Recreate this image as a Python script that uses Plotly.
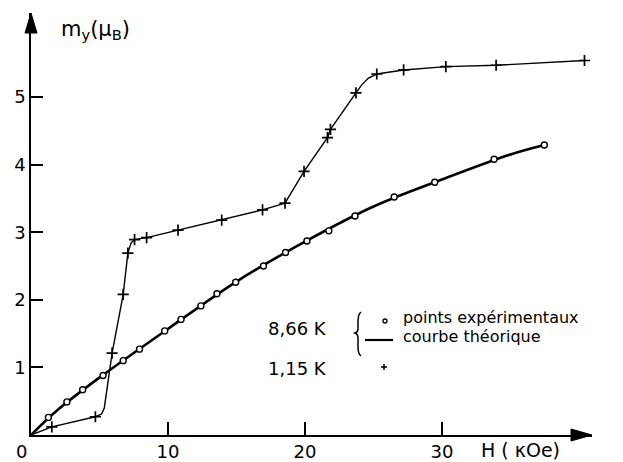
import plotly.graph_objects as go

# ---- data ----
# 8,66 K : experimental points (H in kOe, m_y in mu_B)
h_866 = [1.27, 2.62, 3.77, 5.26, 6.73, 7.92, 9.76, 10.95, 12.4, 13.57, 14.94, 16.97, 18.58, 20.14, 21.74, 23.65, 26.51, 29.47, 33.8, 37.47]
m_866 = [0.26, 0.49, 0.67, 0.88, 1.10, 1.27, 1.54, 1.71, 1.91, 2.09, 2.26, 2.50, 2.70, 2.87, 3.02, 3.24, 3.52, 3.74, 4.08, 4.29]
# 8,66 K : theoretical curve
h_theo = [0, 2, 5, 10, 15, 20, 25, 30, 35, 37.47]
m_theo = [0, 0.38, 0.85, 1.57, 2.27, 2.86, 3.38, 3.78, 4.15, 4.29]
# 1,15 K : experimental points
h_115 = [1.52, 4.7, 5.92, 6.73, 7.07, 7.56, 8.44, 10.73, 13.92, 16.9, 18.54, 19.93, 21.64, 21.86, 23.72, 25.24, 27.2, 30.28, 33.95, 40.4]
m_115 = [0.12, 0.27, 1.21, 2.08, 2.69, 2.89, 2.92, 3.03, 3.18, 3.33, 3.43, 3.90, 4.40, 4.52, 5.06, 5.34, 5.40, 5.45, 5.47, 5.54]
# 1,15 K : hand-drawn guide line
h_guide = [0, 1.52, 4.7, 5.15, 5.35, 5.92, 6.73, 7.07, 7.3, 7.56, 8.44, 10.73, 13.92, 16.9, 18.54, 19.93, 21.64, 21.86, 23.72, 24.14, 24.63, 25.24, 27.2, 30.28, 33.95, 40.4]
m_guide = [0, 0.12, 0.27, 0.31, 0.40, 1.21, 2.08, 2.69, 2.84, 2.89, 2.92, 3.03, 3.18, 3.33, 3.43, 3.90, 4.40, 4.52, 5.06, 5.18, 5.28, 5.34, 5.40, 5.45, 5.47, 5.54]

x_ticks = [10, 20, 30]
y_ticks = [1, 2, 3, 4, 5]

FONT = "DejaVu Sans"
OFF = 8                      # page body margin of the html page
W_PX, H_PX = 623 - OFF, 462 - OFF
# plot area in window pixels
L, R, T, B = 31, 592, 13, 435


def px(x):
    return (x - L) / (R - L)


def py(y):
    return (B - y) / (B - T)


fig = go.Figure()
fig.add_trace(go.Scatter(x=h_guide, y=m_guide, mode="lines",
                         line=dict(color="black", width=1.4), hoverinfo="skip"))
fig.add_trace(go.Scatter(x=h_115, y=m_115, mode="markers",
                         marker=dict(symbol="cross-thin", size=8, color="black",
                                     line=dict(color="black", width=1.7))))
fig.add_trace(go.Scatter(x=h_theo, y=m_theo, mode="lines", line_shape="spline",
                         line=dict(color="black", width=2.6), hoverinfo="skip"))
fig.add_trace(go.Scatter(x=h_866, y=m_866, mode="markers",
                         marker=dict(symbol="circle", size=6, color="white",
                                     line=dict(color="black", width=1.4))))

shapes = []
# axis arrow heads
shapes.append(dict(type="path", xref="paper", yref="paper",
                   path=f"M {px(592)} {py(435)} L {px(571)} {py(429)} L {px(571)} {py(441)} Z",
                   fillcolor="black", line=dict(color="black", width=1)))
shapes.append(dict(type="path", xref="paper", yref="paper",
                   path=f"M {px(31)} {py(13)} L {px(25)} {py(33)} L {px(37)} {py(33)} Z",
                   fillcolor="black", line=dict(color="black", width=1)))
# legend brace
shapes.append(dict(type="path", xref="paper", yref="paper",
                   path=(f"M {px(361)} {py(312)} Q {px(358)} {py(314)} {px(358)} {py(322)} "
                         f"L {px(358)} {py(329)} Q {px(358)} {py(332)} {px(355)} {py(333)} "
                         f"Q {px(358)} {py(334)} {px(358)} {py(338)} "
                         f"L {px(358)} {py(347)} Q {px(358)} {py(354)} {px(361)} {py(356)}"),
                   line=dict(color="black", width=1.5)))
# legend key: theoretical line
shapes.append(dict(type="line", xref="paper", yref="paper",
                   x0=px(365), x1=px(393), y0=py(340), y1=py(340),
                   line=dict(color="black", width=2.2)))
# legend key: open circle
shapes.append(dict(type="circle", xref="paper", yref="paper",
                   x0=px(383), x1=px(387), y0=py(319), y1=py(323),
                   line=dict(color="black", width=1.3)))
# legend key: cross
shapes.append(dict(type="line", xref="paper", yref="paper",
                   x0=px(381), x1=px(387), y0=py(367), y1=py(367),
                   line=dict(color="black", width=1.5)))
shapes.append(dict(type="line", xref="paper", yref="paper",
                   x0=px(384), x1=px(384), y0=py(364), y1=py(370),
                   line=dict(color="black", width=1.5)))


def ann(text, x, y, xanchor="left", size=17):
    return dict(text=text, xref="paper", yref="paper", x=px(x), y=py(y),
                xanchor=xanchor, yanchor="middle", showarrow=False,
                font=dict(family=FONT, size=size, color="black"))


annotations = [
    ann("m<sub>y</sub>(μ<sub>B</sub>)", 59, 30, size=21),
    ann("H ( κOe)", 479, 450, size=19),
    ann("0", 22, 451, xanchor="center", size=18),
    ann("8,66 K", 266, 328, size=18),
    ann("1,15 K", 266, 368, size=18),
    ann("points expérimentaux", 401, 317, size=16),
    ann("courbe théorique", 401, 336, size=16),
]

fig.update_layout(
    width=W_PX, height=H_PX,
    margin=dict(l=L - OFF, r=623 - R, t=T - OFF, b=462 - B, pad=0, autoexpand=False),
    paper_bgcolor="white", plot_bgcolor="white",
    showlegend=False,
    shapes=shapes, annotations=annotations,
    font=dict(family=FONT, size=18, color="black"),
    xaxis=dict(range=[0, (R - L) / 13.7], tickvals=x_ticks, ticktext=[str(v) for v in x_ticks],
               ticks="inside", ticklen=13, tickwidth=1.5, tickcolor="black",
               showline=True, linecolor="black", linewidth=1.5, automargin=False,
               showgrid=False, zeroline=False, fixedrange=True,
               tickfont=dict(family=FONT, size=18, color="black")),
    yaxis=dict(range=[0, (B - T) / 67.6], tickvals=y_ticks, ticktext=[str(v) for v in y_ticks],
               ticks="inside", ticklen=12, tickwidth=1.5, tickcolor="black",
               showline=True, linecolor="black", linewidth=1.5, automargin=False,
               showgrid=False, zeroline=False, fixedrange=True,
               tickfont=dict(family=FONT, size=18, color="black")),
)

fig.write_html("out.html")
